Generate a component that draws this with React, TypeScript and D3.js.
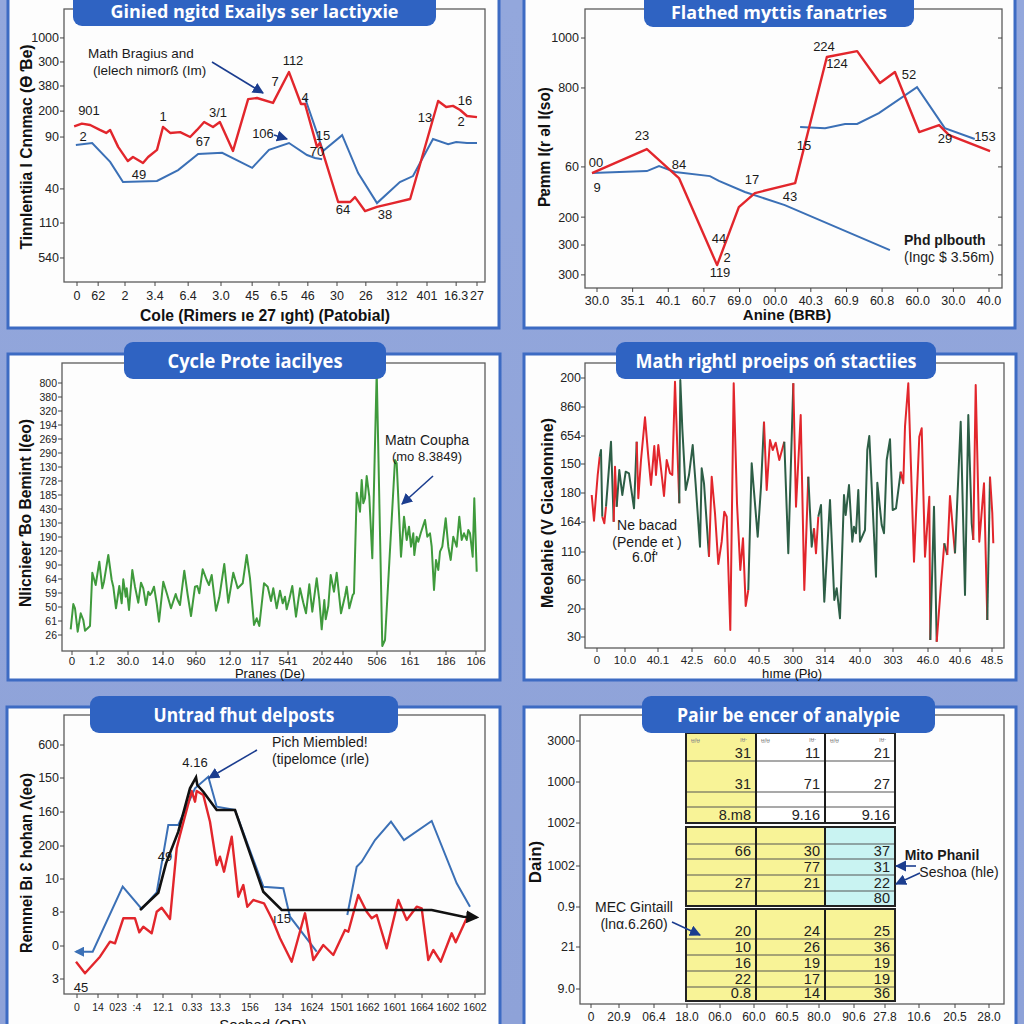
import React from "react";
import * as d3 from "d3";

const FONT = "'Liberation Sans', Arial, sans-serif";
const TFONT = "'Open Sans', 'Liberation Sans', sans-serif";
const RED = "#e2262c";
const BLUE = "#3b70b6";
const GREEN = "#3f9a3c";
const DGREEN = "#2d5e46";
const NAVY = "#1b3d8f";

// ---------------- Panel 1 ----------------
const p1XLabels = ["0", "62", "2", "3.4", "6.4", "3.0", "45", "6.5", "46", "30", "26", "312", "401", "16.3", "27"];
const p1XVals = [0, 0.74, 1.68, 2.73, 3.89, 5.04, 6.13, 7.07, 8.08, 9.1, 10.11, 11.2, 12.25, 13.27, 14];
const p1YLabels = ["1000", "300", "380", "200", "90", "40", "110", "540"];
const p1YVals = [89.4, 80.6, 71.8, 62.6, 53.1, 34.1, 21.6, 8.8];
const p1Red: [number, number][] = [[-0.1,57],[0.17,58],[0.46,57.5],[0.8,55.7],[1.02,54.6],[1.16,55.7],[1.44,49.5],[1.78,44.3],[1.96,45.8],[2.31,43.6],[2.49,45.8],[2.8,48.4],[3.01,56.8],[3.26,54.6],[3.61,54.9],[3.96,53.1],[4.2,55.7],[4.45,58.6],[4.76,56.8],[5.0,58.6],[5.46,48],[5.99,67],[6.3,67.4],[6.86,65.6],[7.42,76.9],[7.84,65.2],[7.98,65.2],[8.4,49.5],[8.5,50.9],[8.61,47.3],[9.14,29.3],[9.56,29.3],[9.73,31.1],[10.08,26],[10.5,27.5],[11.06,28.9],[11.66,30.4],[12.64,66.3],[12.92,64.1],[13.16,64.5],[13.41,63],[13.65,60.8],[14.0,60.4]];
const p1BlueA: [number, number][] = [[-0.04,50.2],[0.53,50.9],[1.16,44],[1.61,36.6],[2.8,37],[3.54,41],[4.24,46.9],[5.08,47.3],[6.13,41.8],[6.72,48.4],[7.42,50.9],[8.05,46.5],[8.33,45.4],[8.58,45]];
const p1BlueB: [number, number][] = [[7.98,67.4],[8.4,54.6],[8.61,48],[9.28,53.8],[9.84,39.9],[10.5,28.9],[11.3,36.6],[11.76,38.8],[12.46,52.4],[12.99,50.5],[13.27,51.3],[13.65,50.9],[14,50.9]];
const p1Notes: [string, number, number][] = [["112",293,65],["7",275,86],["901",89,115],["2",83,141],["1",163,121],["3/1",218,117],["67",203,146],["106",263,138],["49",139,179],["15",323,140],["70",317,156],["4",305,102],["64",343,214],["38",385,219],["13",425,122],["16",465,105],["2",461,126]];

// ---------------- Panel 2 ----------------
const p2XLabels = ["30.0", "35.1", "40.1", "60.7", "69.0", "00.0", "40.3", "60.9", "60.8", "60.0", "30.0", "40.0"];
const p2XVals = [0, 1, 2, 3, 4, 5, 6, 7, 8, 9, 10, 11];
const p2YLabels = ["1000", "800", "60", "200", "300", "300"];
const p2YVals = [89.6, 71.7, 43.4, 25.4, 15.4, 4.7];
const p2Red: [number, number][] = [[-0.14,41.2],[1.4,49.8],[2.3,39.4],[3.37,8.2],[3.98,29],[4.43,34],[5.56,37.6],[6.45,82.8],[7.3,84.9],[7.94,73.5],[8.36,77.4],[9.04,55.9],[9.6,58.4],[9.88,54.8],[11.03,49.1]];
const p2BlueA: [number, number][] = [[-0.14,41.2],[1.4,41.9],[1.74,43.7],[2.19,41.6],[3.17,40.1],[3.42,38.4],[4.15,34.4],[5.27,29.7],[8.22,13.6]];
const p2BlueB: [number, number][] = [[5.7,57.7],[6.4,57.3],[6.96,58.8],[7.3,58.8],[7.91,62.7],[8.98,72],[9.76,57.3],[10.6,53.4]];
const p2Notes: [string, number, number][] = [["224",824,51],["124",837,68],["52",909,79],["23",642,140],["15",804,150],["00",596,167],["9",597,192],["84",679,169],["17",752,184],["43",790,201],["44",719,243],["2",727,262],["119",720,277],["29",945,143],["153",985,141]];

// ---------------- Panel 3 ----------------
const p3XLabels = ["0", "1.2", "30.0", "14.0", "960", "12.0", "117", "541", "202", "440", "506", "161", "186", "106"];
const p3XVals = [10, 35, 66, 101, 134, 168, 198, 226, 260, 281, 315, 348, 384, 414];
const p3YLabels = ["800", "380", "320", "194", "269", "290", "130", "728", "185", "430", "130", "190", "120", "90", "64", "59", "50", "61", "26"];
const p3YVals = [268, 254, 240, 226, 212, 198, 184, 170, 156, 142, 128, 114, 100, 86, 72, 58, 44, 30, 16];
const p3Green: [number, number][] = [[8.7,21.7],[11.3,47],[13,42.7],[15.7,19.3],[18.7,37.7],[21.3,31],[23,20.3],[28,25],[30.3,78.3],[33.7,66],[37.3,89.3],[40.3,62.7],[42,69.3],[46.3,96],[49.7,71],[51.3,64.3],[54,42.7],[57.3,65],[59.7,47.7],[61.3,71.7],[63.7,54.3],[64.7,62.7],[67,41],[70.3,81],[73,64.3],[76.3,48.3],[79,68.3],[81.3,62.7],[84,46],[86.3,59.3],[88,56],[89.7,58.3],[92,64.3],[94.7,47.7],[97,29.3],[101.3,69.3],[105.3,56],[109,42.7],[113.7,57],[115.3,51.7],[118,46],[122.3,80.3],[125.7,56],[129,35],[133,64.3],[135.3,65],[137.3,57.7],[140.7,81.7],[144.7,71],[147,66],[149.7,76],[154,40.3],[157.3,53.7],[162.3,87],[166.3,48.3],[171.3,78.3],[175.7,62.7],[178,65],[180.7,67.7],[184.7,96],[188,72.7],[192,26],[194.7,32.7],[197.3,25],[202,67.7],[205.7,64.3],[209,50],[211.3,62.7],[214.7,42.7],[218,60.3],[220.7,47.7],[223,54.3],[224.7,41.7],[227.3,51.7],[230.3,65],[234,34.3],[238,62.7],[241.3,48.3],[244,37.7],[247.3,66.7],[250.3,39.3],[254.7,72.7],[257.3,51],[259.7,21.7],[262.3,51],[263.7,31.7],[266.3,45],[268.7,76],[272,59.3],[274.7,78.3],[279,37.7],[283,55],[284.7,64.3],[287.3,42.7],[290.7,56],[292,57.7],[294.7,158.3],[298,139.3],[299.7,171],[301.3,147.7],[303,152.7],[304.7,175],[307.3,154.3],[310.3,92.7],[314.7,279],[320.3,5],[323,11],[333,191],[334.7,187.7],[339,94.3],[342,134.3],[344.7,111],[347,124.3],[349,104.3],[351.3,117.7],[352.3,96],[354.7,114.3],[356.3,109.3],[358.7,117.7],[363,131],[365.3,114.3],[368,117.7],[369.7,104.3],[372,61],[374,91],[376.3,81],[378,99.3],[380.3,104.3],[383.7,132.7],[386.3,104.3],[388.7,91],[391.3,114.3],[394.7,104.3],[397.3,134.3],[399.7,111],[402,117.7],[404.7,111],[406.3,121],[408,117.7],[410.7,94.3],[412.3,152.7],[414.7,79.3]];

// ---------------- Panel 4 ----------------
const p4XLabels = ["0", "10.0", "40.1", "42.5", "60.0", "40.5", "300", "314", "40.0", "303", "46.0", "40.6", "48.5"];
const p4XVals = [12, 40, 73, 107, 140, 174, 208, 240, 275, 308, 343, 375, 407];
const p4YLabels = ["200", "860", "654", "150", "180", "164", "110", "60", "20", "30"];
const p4YVals = [270, 241, 212, 184, 155, 126, 96, 68, 39, 11];
const p4Pts: [number, number, string][] = [[6.7,153,"r"],[9,127.3,"r"],[12.7,173,"r"],[14.7,191.3,"r"],[16,198,"g"],[17.3,131.3,"g"],[19.3,124.7,"r"],[21,141.3,"r"],[26,206.3,"g"],[28.7,126.3,"g"],[30,181.3,"r"],[31.7,141.3,"r"],[34.3,178,"g"],[37.3,153,"g"],[40.7,176.3,"g"],[44,174.7,"g"],[49,139.7,"g"],[51.7,206.3,"g"],[53.3,149.7,"r"],[56,188,"r"],[60,230.7,"r"],[63.3,191.3,"r"],[66,163,"r"],[69.3,202,"r"],[71,173,"r"],[73.3,203,"r"],[76.7,173,"r"],[79,152,"r"],[81.7,188,"r"],[85,174.7,"r"],[87.3,173,"r"],[90,266.3,"r"],[94.3,144.7,"r"],[95.3,268,"g"],[97.3,219.7,"g"],[100.7,158,"g"],[104,173,"g"],[107.7,203,"g"],[110.7,163,"g"],[115,101.3,"g"],[116.7,179.7,"g"],[119,164.7,"g"],[124,91.3,"g"],[126.7,171.3,"r"],[130,134.7,"r"],[133.3,84,"r"],[136.7,106.3,"r"],[139.3,136.3,"r"],[141.7,131.3,"r"],[145.3,18,"r"],[148.7,264.7,"r"],[152,144.7,"r"],[155.3,78,"r"],[158,109.7,"r"],[160.7,42,"r"],[163.3,58,"r"],[166.7,184.7,"g"],[172.7,111.3,"g"],[176,161.3,"g"],[179,226.3,"g"],[181.7,158,"r"],[185,208,"r"],[187.7,198,"r"],[190.7,205.3,"r"],[194.3,188,"r"],[199.3,206.3,"r"],[203.3,94.7,"g"],[208.3,264.7,"g"],[211,141.3,"r"],[215.7,233,"r"],[219.3,58,"r"],[223.3,171.3,"r"],[226.7,101.3,"g"],[229,119.7,"g"],[231,94.7,"r"],[233.3,131.3,"r"],[236,143,"g"],[239.3,46.3,"g"],[245,148,"g"],[249.3,48,"g"],[251.7,59.7,"g"],[255,29.7,"g"],[259,153,"g"],[260.7,133,"g"],[264,163,"g"],[267.3,106.3,"g"],[269,121.3,"g"],[271,114.7,"g"],[273.3,158,"g"],[275,106.3,"g"],[280,118,"g"],[282.3,198,"g"],[284.3,212,"g"],[286.7,161.3,"g"],[291,71.3,"g"],[292.3,165.3,"g"],[296.7,123,"g"],[299,114.7,"g"],[301.7,188,"g"],[305,208.7,"g"],[307.7,138,"g"],[311,139.7,"g"],[315.7,176.3,"g"],[318.3,164.7,"r"],[320,221.3,"r"],[323.3,264.7,"r"],[329,86.3,"r"],[334.3,211.3,"r"],[336.7,219.7,"r"],[340,91.3,"r"],[344.3,151.3,"r"],[345.3,8,"r"],[349,141.3,"g"],[351.7,6.3,"g"],[355.7,59.7,"r"],[359.3,104.7,"r"],[362.3,93,"g"],[365,152,"r"],[370,94.7,"r"],[375.7,226.3,"g"],[380,53,"g"],[383.3,233,"g"],[386.7,124.7,"g"],[388.3,108,"g"],[390.7,263,"r"],[394.3,106.3,"r"],[399,164.7,"r"],[402.3,28,"r"],[405,171.3,"g"],[407.3,134.7,"r"],[408.3,104.7,"r"]];

// ---------------- Panel 5 ----------------
const p5XLabels = ["0", "14", "023", ":4", "12.1", "0.33", "13.3", "156", "134", "1624", "1501", "1662", "1601", "1664", "1602", "1602"];
const p5XVals = [13, 34, 54, 73, 99, 128, 156, 186, 219, 248, 278, 304, 331, 358, 384, 411];
const p5YLabels = ["600", "150", "160", "200", "10", "8", "0", "3"];
const p5YVals = [249, 216, 182, 148, 115, 82, 48, 15];
const p5Red: [number, number][] = [[12,32.3],[21,20.7],[36,37.3],[46,52.3],[51,50.7],[59.3,75.7],[71,75.7],[75.3,61.7],[79.3,67.3],[87.7,60.7],[92.7,82.3],[97.7,86.3],[106,75],[112.7,145.7],[116,159],[127.7,203],[131,192.3],[132.7,203],[139.3,199],[146,172.3],[152.7,129],[156,137.3],[160,122.3],[167.7,157.3],[174.3,97.3],[179.3,109],[183.3,87.3],[189.3,94],[200,90.7],[206,79],[209.3,72.3],[216,55.7],[227.7,32.3],[241,80.7],[249.3,34],[259.3,49],[269.3,39],[281,64],[284.3,62.3],[294.3,99],[302.7,82.3],[307.7,75.7],[312.7,79],[322.7,45.7],[334.3,94],[342.7,74],[352.7,87.3],[357.7,85.7],[364.3,34],[369.3,44],[376.7,32.3],[387.7,60.7],[391.7,51.7],[402.7,75.7]];
const p5BlueA: [number, number][] = [[12,42.3],[28.7,42.3],[58.7,107.3],[77.7,85],[92.7,101.7],[104.3,169],[114.3,169],[131,205.7],[144.3,217.3],[152.7,187.3],[171,184],[199.3,107.3],[219.3,105.7],[226,77.3],[252.7,42.3]];
const p5BlueB: [number, number][] = [[283.3,79],[292.7,127.3],[297.7,132.3],[311,154],[327,172.3],[340,154],[367.7,173],[392.7,110.7],[406,87.3]];
const p5Black: [number, number][] = [[76,84],[94.3,101.3],[102,130.7],[114.3,162.3],[126,205.7],[132,216.7],[133.3,209],[139.3,202.3],[152.7,184],[171,184],[199.3,102.3],[217.7,84],[367.7,84],[399.3,77.3],[412.7,76.7]];
const p5Notes: [string, number, number][] = [["4.16",195,767],["49",165,861],["ı15",282,923],["45",81,992]];

// ---------------- Panel 6 ----------------
const p6XLabels = ["0", "20.9", "06.4", "18.0", "06.0", "60.0", "60.5", "80.0", "90.6", "27.8", "10.6", "20.5", "28.0"];
const p6XVals = [11, 39, 74, 107, 140, 174, 207, 239, 274, 305, 339, 375, 409];
const p6YLabels = ["3000", "1000", "1002", "1002", "0.9", "21", "9.0"];
const p6YVals = [263, 222, 181, 138, 97, 57, 15];
const p6ColEdges = [106, 176, 245, 315];
const p6Block1 = [["31", "11", "21"], ["31", "71", "27"], ["", "", ""], ["8.m8", "9.16", "9.16"]];
const p6Block1Rows = [271, 243, 212, 197, 181];
const p6Block1Fill = ["y", "w", "w"];
const p6Block2 = [["", "", ""], ["66", "30", "37"], ["", "77", "31"], ["27", "21", "22"], ["", "", "80"]];
const p6Block2Rows = [177, 160, 145, 129, 113, 98];
const p6Block2Fill = ["y", "y", "c"];
const p6Block3 = [["20", "24", "25"], ["10", "26", "36"], ["16", "19", "19"], ["22", "17", "19"], ["0.8", "14", "36"]];
const p6Block3Rows = [95, 65, 49, 33, 17, 3];
const p6Block3Fill = ["y", "y", "y"];

const FILLS: Record<string, string> = { y: "#f8f397", w: "#ffffff", c: "#c9f3f2" };

type Sc = d3.ScaleLinear<number, number>;

function Axes(props: {
  x: Sc; y: Sc; frame: [number, number, number, number];
  xVals: number[]; xLabels: string[]; yVals: number[]; yLabels: string[];
  xLabelY: number; fsX?: number; fsY?: number; gap?: number; rightTicks?: boolean;
}) {
  const { x, y, frame, xVals, xLabels, yVals, yLabels, xLabelY } = props;
  const fsX = props.fsX ?? 12.5, fsY = props.fsY ?? 12.5, gap = props.gap ?? 5;
  const [l, r, t, b] = frame;
  return (
    <g fontFamily={FONT} fill="#222">
      <rect x={l} y={t} width={r - l} height={b - t} fill="none" stroke="#5c5c5c" strokeWidth={1.3} />
      {yVals.map((v, i) => (
        <g key={"y" + i}>
          <line x1={l - 4} x2={l} y1={y(v)} y2={y(v)} stroke="#444" />
          {props.rightTicks && <line x1={r - 4} x2={r} y1={y(v)} y2={y(v)} stroke="#444" />}
          <text x={l - gap} y={y(v)} dy="0.35em" textAnchor="end" fontSize={fsY}>{yLabels[i]}</text>
        </g>
      ))}
      {xVals.map((v, i) => (
        <g key={"x" + i}>
          <line x1={x(v)} x2={x(v)} y1={b} y2={b + 4} stroke="#444" />
          <text x={x(v)} y={xLabelY} textAnchor="middle" fontSize={fsX}>{xLabels[i]}</text>
        </g>
      ))}
    </g>
  );
}

function OuterPanel({ x0, x1, y0, y1 }: { x0: number; x1: number; y0: number; y1: number }) {
  return <rect x={x0} y={y0} width={x1 - x0} height={y1 - y0} fill="#fdfdfd" stroke="#3d6bc3" strokeWidth={3} />;
}

function TitleBox({ x0, x1, y0, y1, text, tw, ty, fs = 19 }: { x0: number; x1: number; y0: number; y1: number; text: string; tw: number; ty: number; fs?: number }) {
  return (
    <g>
      <rect x={x0} y={y0} width={x1 - x0} height={y1 - y0} rx={9} fill="#2f63c2" />
      <text x={(x0 + x1) / 2} y={ty} textAnchor="middle" fontFamily={TFONT} fontWeight="bold" fontSize={fs} fill="#fff"
        textLength={tw} lengthAdjust="spacingAndGlyphs">{text}</text>
    </g>
  );
}

function YTitle({ cx, cy, text, len, fs = 17 }: { cx: number; cy: number; text: string; len: number; fs?: number }) {
  return (
    <text transform={`translate(${cx},${cy}) rotate(-90)`} textAnchor="middle" dy="0.35em" fontFamily={FONT}
      fontWeight="bold" fontSize={fs} fill="#111" textLength={len} lengthAdjust="spacingAndGlyphs">{text}</text>
  );
}

function Arrow({ x1, y1, x2, y2, id = "ahNavy", color = NAVY, w = 1.6 }: any) {
  return <line x1={x1} y1={y1} x2={x2} y2={y2} stroke={color} strokeWidth={w} markerEnd={`url(#${id})`} />;
}

function Notes({ notes, fs = 13 }: { notes: [string, number, number][]; fs?: number }) {
  return (
    <g fontFamily={FONT} fontSize={fs} fill="#1a1a1a" textAnchor="middle">
      {notes.map(([t, x, y], i) => <text key={i} x={x} y={y}>{t}</text>)}
    </g>
  );
}

function pathOf(x: Sc, y: Sc, pts: [number, number][]) {
  return d3.line<[number, number]>().x((d) => x(d[0])).y((d) => y(d[1]))(pts) || "";
}

export default function App() {
  const f1: [number, number, number, number] = [64, 485, 9, 282];
  const x1 = d3.scaleLinear().domain([0, 14]).range([77, 477]);
  const y1 = d3.scaleLinear().domain([0, 100]).range([282, 9]);
  const f2: [number, number, number, number] = [585, 1002, 9, 288];
  const x2 = d3.scaleLinear().domain([0, 11]).range([597, 989]);
  const y2 = d3.scaleLinear().domain([0, 100]).range([288, 9]);
  const f3: [number, number, number, number] = [62, 485, 363, 651];
  const x3 = d3.scaleLinear().domain([0, 423]).range([62, 485]);
  const y3 = d3.scaleLinear().domain([0, 288]).range([651, 363]);
  const f4: [number, number, number, number] = [585, 1004, 363, 648];
  const x4 = d3.scaleLinear().domain([0, 419]).range([585, 1004]);
  const y4 = d3.scaleLinear().domain([0, 285]).range([648, 363]);
  const f5: [number, number, number, number] = [64, 485, 715, 994];
  const x5 = d3.scaleLinear().domain([0, 421]).range([64, 485]);
  const y5 = d3.scaleLinear().domain([0, 279]).range([994, 715]);
  const f6: [number, number, number, number] = [580, 1004, 715, 1004];
  const x6 = d3.scaleLinear().domain([0, 424]).range([580, 1004]);
  const y6 = d3.scaleLinear().domain([0, 289]).range([1004, 715]);

  const runs: { c: string; pts: [number, number][] }[] = [];
  for (let i = 1; i < p4Pts.length; i++) {
    const c = p4Pts[i][2];
    if (!runs.length || runs[runs.length - 1].c !== c) runs.push({ c, pts: [[p4Pts[i - 1][0], p4Pts[i - 1][1]]] });
    runs[runs.length - 1].pts.push([p4Pts[i][0], p4Pts[i][1]]);
  }

  const blocks = [
    { rows: p6Block1, edges: p6Block1Rows, fill: p6Block1Fill },
    { rows: p6Block2, edges: p6Block2Rows, fill: p6Block2Fill },
    { rows: p6Block3, edges: p6Block3Rows, fill: p6Block3Fill },
  ];

  return (
    <svg width={1024} height={1024} style={{ position: "absolute", left: 0, top: 0 }} xmlns="http://www.w3.org/2000/svg">
      <defs>
        <marker id="ahNavy" viewBox="0 0 10 10" refX="9" refY="5" markerWidth="7" markerHeight="7" orient="auto-start-reverse">
          <path d="M0,0 L10,5 L0,10 z" fill={NAVY} />
        </marker>
        <marker id="ahBlack" viewBox="0 0 10 10" refX="8" refY="5" markerWidth="5" markerHeight="5" orient="auto-start-reverse">
          <path d="M0,0 L10,5 L0,10 z" fill="#111" />
        </marker>
        <marker id="ahBlue" viewBox="0 0 10 10" refX="8" refY="5" markerWidth="5" markerHeight="5" orient="auto-start-reverse">
          <path d="M0,0 L10,5 L0,10 z" fill={BLUE} />
        </marker>
        <linearGradient id="bg" x1="0" y1="0" x2="0" y2="1">
          <stop offset="0" stopColor="#93a7dc" />
          <stop offset="1" stopColor="#8ea2d8" />
        </linearGradient>
      </defs>
      <rect x={0} y={0} width={1024} height={1024} fill="url(#bg)" />

      {/* ================= Panel 1 ================= */}
      <OuterPanel x0={8} x1={499} y0={-3} y1={328} />
      <Axes x={x1} y={y1} frame={f1} xVals={p1XVals} xLabels={p1XLabels} yVals={p1YVals} yLabels={p1YLabels} xLabelY={300} />
      <path d={pathOf(x1, y1, p1BlueA)} fill="none" stroke={BLUE} strokeWidth={2} />
      <path d={pathOf(x1, y1, p1BlueB)} fill="none" stroke={BLUE} strokeWidth={2} />
      <path d={pathOf(x1, y1, p1Red)} fill="none" stroke={RED} strokeWidth={2.4} strokeLinejoin="round" />
      <Notes notes={p1Notes} />
      <g fontFamily={FONT} fontSize={13.5} fill="#1a1a1a">
        <text x={88} y={58}>Math Bragius and</text>
        <text x={93} y={75}>(lelech nimorß (Im)</text>
      </g>
      <Arrow x1={212} y1={62} x2={263} y2={93} />
      <Arrow x1={274} y1={135} x2={287} y2={139} />
      <text x={265} y={321} textAnchor="middle" fontFamily={FONT} fontWeight="bold" fontSize={16} fill="#111" textLength={250} lengthAdjust="spacingAndGlyphs">Cole (Rimers ıe 27 ıght) (Patobial)</text>
      <YTitle cx={26} cy={147} text="Tinnlentiia I Cnnmac (Ɵ Ɓe)" len={205} />

      {/* ================= Panel 2 ================= */}
      <OuterPanel x0={524} x1={1015} y0={-3} y1={328} />
      <Axes x={x2} y={y2} frame={f2} xVals={p2XVals} xLabels={p2XLabels} yVals={p2YVals} yLabels={p2YLabels} xLabelY={305} gap={6} rightTicks />
      <path d={pathOf(x2, y2, p2BlueA)} fill="none" stroke={BLUE} strokeWidth={2} />
      <path d={pathOf(x2, y2, p2BlueB)} fill="none" stroke={BLUE} strokeWidth={2} />
      <path d={pathOf(x2, y2, p2Red)} fill="none" stroke={RED} strokeWidth={2.4} strokeLinejoin="round" />
      <Notes notes={p2Notes} />
      <g fontFamily={FONT} fontSize={14} fill="#1a1a1a">
        <text x={904} y={245} fontWeight="bold">Phd plbouth</text>
        <text x={904} y={262}>(Ingc $ 3.56m)</text>
      </g>
      <text x={787} y={320} textAnchor="middle" fontFamily={FONT} fontWeight="bold" fontSize={15} fill="#111">Anine (BRB)</text>
      <YTitle cx={544} cy={147} text="Pɐmm I(r əl I(so)" len={120} fs={16} />

      {/* ================= Panel 3 ================= */}
      <OuterPanel x0={8} x1={500} y0={354} y1={680} />
      <Axes x={x3} y={y3} frame={f3} xVals={p3XVals} xLabels={p3XLabels} yVals={p3YVals} yLabels={p3YLabels} xLabelY={665} fsY={10.5} fsX={11.5} />
      <path d={pathOf(x3, y3, p3Green)} fill="none" stroke={GREEN} strokeWidth={2} strokeLinejoin="round" />
      <g fontFamily={FONT} fill="#1a1a1a" textAnchor="middle">
        <text x={427} y={445} fontSize={14}>Matn Coupha</text>
        <text x={427} y={461} fontSize={13}>(mo 8.3849)</text>
      </g>
      <Arrow x1={433} y1={476} x2={402} y2={504} />
      <text x={270} y={678} textAnchor="middle" fontFamily={FONT} fontSize={13} fill="#111">Pranes (De)</text>
      <YTitle cx={25} cy={513} text="Nlicnieer Ɓo Bemint I(eo)" len={188} />

      {/* ================= Panel 4 ================= */}
      <OuterPanel x0={524} x1={1016} y0={354} y1={680} />
      <Axes x={x4} y={y4} frame={f4} xVals={p4XVals} xLabels={p4XLabels} yVals={p4YVals} yLabels={p4YLabels} xLabelY={664} gap={4} fsX={11.5} />
      {runs.map((r, i) => (
        <path key={i} d={pathOf(x4, y4, r.pts)} fill="none" stroke={r.c === "r" ? RED : DGREEN} strokeWidth={2} strokeLinejoin="round" />
      ))}
      <g fontFamily={FONT} fill="#1a1a1a" textAnchor="middle" fontSize={14}>
        <text x={647} y={530}>Ne bacad</text>
        <text x={647} y={547}>(Pende et )</text>
        <text x={645} y={562}>6.0ḟ'</text>
      </g>
      <text x={792} y={678} textAnchor="middle" fontFamily={FONT} fontSize={13} fill="#111">hıme (Pło)</text>
      <YTitle cx={547} cy={513} text="Meolahie (V Gicalonnine)" len={190} />

      {/* ================= Panel 5 ================= */}
      <OuterPanel x0={7} x1={500} y0={707} y1={1030} />
      <Axes x={x5} y={y5} frame={f5} xVals={p5XVals} xLabels={p5XLabels} yVals={p5YVals} yLabels={p5YLabels} xLabelY={1011} fsX={10.5} />
      <path d={pathOf(x5, y5, p5BlueA)} fill="none" stroke={BLUE} strokeWidth={2} markerStart="url(#ahBlue)" />
      <path d={pathOf(x5, y5, p5BlueB)} fill="none" stroke={BLUE} strokeWidth={2} />
      <path d={pathOf(x5, y5, p5Red)} fill="none" stroke={RED} strokeWidth={2.4} strokeLinejoin="round" />
      <path d={pathOf(x5, y5, p5Black)} fill="none" stroke="#111" strokeWidth={2.6} markerEnd="url(#ahBlack)" />
      <Notes notes={p5Notes} />
      <g fontFamily={FONT} fill="#1a1a1a" fontSize={14}>
        <text x={272} y={747}>Pich Miembled!</text>
        <text x={272} y={764}>(tipelomce (ırle)</text>
      </g>
      <Arrow x1={257} y1={750} x2={209} y2={778} />
      <text x={263} y={1030} textAnchor="middle" fontFamily={FONT} fontSize={15} fill="#111">Sochad (OR)</text>
      <YTitle cx={26} cy={863} text="Rennnei Bı Ɛ hohan Λ(eo)" len={180} />

      {/* ================= Panel 6 ================= */}
      <OuterPanel x0={524} x1={1016} y0={707} y1={1030} />
      <Axes x={x6} y={y6} frame={f6} xVals={p6XVals} xLabels={p6XLabels} yVals={p6YVals} yLabels={p6YLabels} xLabelY={1021} fsX={12} />
      {blocks.map((blk, bi) => {
        const top = y6(blk.edges[0]);
        const bot = y6(blk.edges[blk.edges.length - 1]);
        const L = x6(p6ColEdges[0]);
        const R = x6(p6ColEdges[3]);
        return (
          <g key={bi}>
            {blk.fill.map((f, ci) => (
              <rect key={ci} x={x6(p6ColEdges[ci])} y={top} width={x6(p6ColEdges[ci + 1]) - x6(p6ColEdges[ci])} height={bot - top} fill={FILLS[f]} />
            ))}
            {blk.edges.slice(1, -1).map((e, ri) => (
              <line key={"r" + ri} x1={L} x2={R} y1={y6(e)} y2={y6(e)} stroke="#555" strokeWidth={1.2} />
            ))}
            {[1, 2].map((ci) => (
              <line key={"c" + ci} x1={x6(p6ColEdges[ci])} x2={x6(p6ColEdges[ci])} y1={top} y2={bot} stroke="#1a1a1a" strokeWidth={2} />
            ))}
            <rect x={L} y={top} width={R - L} height={bot - top} fill="none" stroke="#222" strokeWidth={2} />
            {blk.rows.map((row, ri) => row.map((t, ci) => (
              <text key={ri + "-" + ci} x={x6(p6ColEdges[ci + 1]) - 5} y={y6(blk.edges[ri + 1]) - 3.5} textAnchor="end"
                fontFamily={FONT} fontSize={14.5} fill="#222">{t}</text>
            )))}
            {bi === 0 && [0, 1, 2].map((ci) => (
              <g key={"h" + ci} fontFamily={FONT} fontSize={6.5} fill="#888">
                <text x={x6(p6ColEdges[ci]) + 5} y={top + 10}>ᵾ/ᵾ</text>
                <text x={x6(p6ColEdges[ci + 1]) - 16} y={top + 9}>ıᵾ·</text>
              </g>
            ))}
          </g>
        );
      })}
      <g fontFamily={FONT} fill="#1a1a1a" fontSize={14} textAnchor="middle">
        <text x={942} y={860} fontWeight="bold">Mito Phanil</text>
        <text x={959} y={877}>Seshoa (hle)</text>
        <text x={634} y={912}>MEC Gintaill</text>
        <text x={634} y={929}>(lnα.6.260)</text>
      </g>
      <Arrow x1={916} y1={866} x2={896} y2={866} />
      <Arrow x1={920} y1={873} x2={896} y2={884} />
      <Arrow x1={672} y1={922} x2={700} y2={935} />
      <text x={535} y={862} transform="rotate(-90 535 862)" textAnchor="middle" dy="0.35em" fontFamily={FONT} fontWeight="bold" fontSize={17} fill="#111">Dain)</text>

      {/* Title boxes on top */}
      <TitleBox x0={73} x1={436} y0={-12} y1={26} text="Ginied ngitd Exailys ser lactiyxie" tw={288} ty={18} fs={17.5} />
      <TitleBox x0={644} x1={914} y0={-12} y1={27} text="Flathed myttis fanatries" tw={216} ty={19} fs={17.5} />
      <TitleBox x0={124} x1={386} y0={342} y1={379} text="Cycle Prote iacilyes" tw={175} ty={368} />
      <TitleBox x0={616} x1={936} y0={342} y1={379} text="Math rightl proeips oń stactiies" tw={281} ty={368} />
      <TitleBox x0={90} x1={398} y0={696} y1={733} text="Untrad fhut delposts" tw={181} ty={722} />
      <TitleBox x0={642} x1={935} y0={696} y1={733} text="Paiır be encer of analyρie" tw={223} ty={722} />
    </svg>
  );
}
